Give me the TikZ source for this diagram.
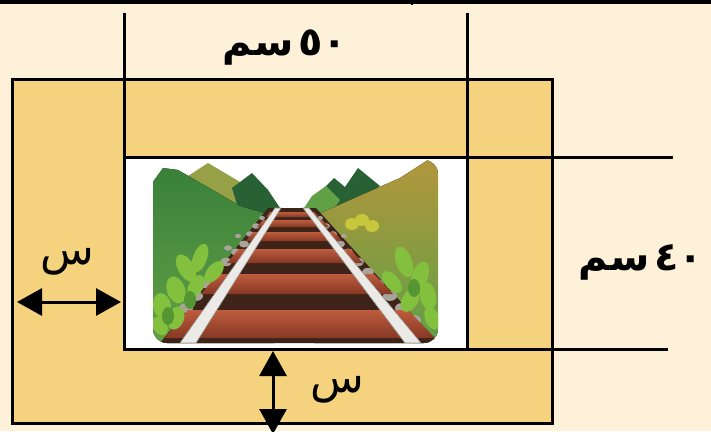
\documentclass[tikz,border=0pt]{standalone}
\usepackage{fontspec}
\newfontfamily\arabicfont[Script=Arabic]{DejaVu Sans}
\TeXXeTstate=1
\usetikzlibrary{arrows.meta}

\definecolor{paper}{RGB}{253,241,218}
\definecolor{frametan}{RGB}{245,211,126}
\definecolor{mtgreenA}{RGB}{58,128,58}
\definecolor{mtgreenB}{RGB}{96,160,70}
\definecolor{mtdark}{RGB}{40,98,52}
\definecolor{mtolive}{RGB}{150,160,70}
\definecolor{mtgold}{RGB}{178,150,60}
\definecolor{bed}{RGB}{62,36,24}
\definecolor{tietop}{RGB}{190,92,62}
\definecolor{tiebot}{RGB}{134,56,36}
\definecolor{rail}{RGB}{236,234,230}
\definecolor{railedge}{RGB}{150,144,138}
\definecolor{stone}{RGB}{168,164,156}
\definecolor{leaf}{RGB}{130,192,62}
\definecolor{leafdark}{RGB}{84,150,50}
\definecolor{leafyellow}{RGB}{200,198,58}

\tikzset{
  edge/.style={line width=3pt, draw=black, line join=miter},
  extline/.style={line width=3pt, draw=black},
  dim/.style={line width=3pt, draw=black,
    {Triangle[length=25pt,width=27pt]}-{Triangle[length=25pt,width=27pt]}},
  lbl/.style={font=\arabicfont\bfseries\fontsize{40}{46}\selectfont, inner sep=0pt},
  sinlbl/.style={font=\arabicfont\fontsize{44}{50}\selectfont, inner sep=0pt},
  tie/.style={top color=tietop, bottom color=tiebot},
  pebble/.style={fill=stone},
  leafy/.style={fill=leaf},
}

\begin{document}
\begin{tikzpicture}[x=1pt,y=-1pt]
\useasboundingbox (0,0) rectangle (711,431);
\clip (0,0) rectangle (711,431);
\fill[paper] (0,0) rectangle (711,431);

% rule along the top edge
\draw[line width=4pt] (0,1.5) -- (711,1.5);
\draw[line width=2pt] (412,0) -- (412,5);

% outer frame
\coordinate (fo1) at (12,79);
\coordinate (fo2) at (552,423);
\path[edge, fill=frametan] (fo1) rectangle (fo2);

% picture window
\coordinate (pi1) at (124,157);
\coordinate (pi2) at (467,349);
\path[edge, fill=white] (pi1) rectangle (pi2);

% railway picture
\begin{scope}
  \clip[rounded corners=14pt] (153,160) rectangle (438,343);
  \fill[white] (153,160) rectangle (438,343);
  % left mountains
  \fill[mtolive] (185,178) -- (208,163) -- (262,195) -- (282,214) -- (185,214) -- cycle;
  \fill[mtdark] (232,188) -- (252,173) -- (268,190) -- (284,214) -- (240,214) -- cycle;
  \fill[top color=mtgreenA, bottom color=mtgreenB]
    (153,343) -- (153,182) -- (163,168) -- (178,170) -- (240,206) -- (274,216) -- (274,343) -- cycle;
  % right mountains
  \fill[mtdark] (305,214) -- (322,190) -- (334,178) -- (345,187) -- (358,168) -- (380,186) -- (350,214) -- cycle;
  \fill[mtgreenB] (300,214) -- (312,196) -- (326,186) -- (340,200) -- (330,214) -- cycle;
  \fill[top color=mtgold, bottom color=mtgreenB]
    (314,216) -- (400,178) -- (428,160) -- (438,160) -- (438,343) -- (314,343) -- cycle;
  % track bed
  \fill[bed] (268,208) -- (316,208) -- (438,343) -- (160,343) -- cycle;
  % gravel beside the rails
  \foreach \x/\y/\r in {262/218/3, 256/226/4, 250/234/4, 244/244/5, 236/252/5, 226/262/6,
                        216/272/6, 206/284/6, 196/296/7, 186/308/7, 238/236/3, 228/248/4,
                        320/218/3, 326/226/4, 333/234/4, 340/244/5, 348/252/5, 358/262/6,
                        368/272/6, 378/284/6, 390/296/7, 402/308/7, 414/320/7, 344/236/3}
    \fill[pebble] (\x,\y) ellipse ({\r pt} and {0.7*\r pt});
  % sleepers
  \path[tie] (270,212) -- (314,212) -- (319,217) -- (266,217) -- cycle;
  \path[tie] (263,220) -- (322,220) -- (329,227) -- (257,227) -- cycle;
  \path[tie] (253,232) -- (334,232) -- (342,241) -- (246,241) -- cycle;
  \path[tie] (239,249) -- (350,249) -- (363,263) -- (227,263) -- cycle;
  \path[tie] (218,274) -- (374,274) -- (393,294) -- (201,294) -- cycle;
  \path[tie] (188,310) -- (408,310) -- (435,338) -- (164,338) -- cycle;
  % bushes
  \foreach \x/\y/\a/\w/\h in {200/258/-20/7/15, 186/268/30/8/15, 214/272/-40/7/13,
                              176/290/20/9/14, 196/286/-30/7/12, 162/306/10/9/13,
                              176/318/-20/8/12, 160/326/30/7/10,
                              404/262/20/8/16, 420/276/-20/8/15, 392/282/40/7/13,
                              428/296/10/8/14, 410/300/-30/8/13, 432/318/20/7/12}
    \fill[leafy, rotate around={\a:(\x,\y)}] (\x,\y) ellipse ({\w pt} and {\h pt});
  \foreach \x/\y in {190/300, 414/288, 168/316}
    \fill[leafdark] (\x,\y) ellipse (6pt and 9pt);
  \foreach \x/\y in {352/224, 362/220, 372/226}
    \fill[leafyellow] (\x,\y) ellipse (7pt and 6pt);
  % rails
  \filldraw[fill=rail, draw=railedge, line width=0.6pt] (275,208) -- (281,208) -- (196,343) -- (180,343) -- cycle;
  \filldraw[fill=rail, draw=railedge, line width=0.6pt] (303,208) -- (309,208) -- (421,343) -- (405,343) -- cycle;
\end{scope}

% extension lines
\coordinate (v1a) at (124,13);
\coordinate (v1b) at (124,157);
\coordinate (v2a) at (467,13);
\coordinate (v2b) at (467,157);
\coordinate (h1a) at (467,157);
\coordinate (h1b) at (673,157);
\coordinate (h2a) at (467,349);
\coordinate (h2b) at (668,349);
\draw[extline] (v1a) -- (v1b);
\draw[extline] (v2a) -- (v2b);
\draw[extline] (h1a) -- (h1b);
\draw[extline] (h2a) -- (h2b);

% dimension labels
\node[lbl] (w) at (285,48) {\beginR ٥٠\hspace{0.12em}سم\endR};
\node[lbl] (h) at (641,262) {\beginR ٤٠\hspace{0.12em}سم\endR};

% margin arrows
\coordinate (ml1) at (17,302);
\coordinate (ml2) at (121,302);
\draw[dim] (ml1) -- (ml2);
\node[sinlbl] (sl) at (67,262) {\beginR س\endR};

\coordinate (mb1) at (273,351);
\coordinate (mb2) at (273,434);
\draw[dim] (mb1) -- (mb2);
\node[sinlbl] (sb) at (337,390) {\beginR س\endR};
\end{tikzpicture}
\end{document}
